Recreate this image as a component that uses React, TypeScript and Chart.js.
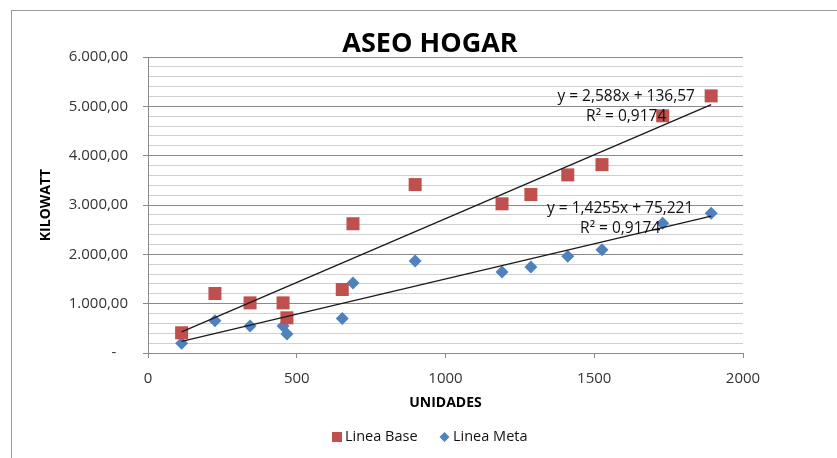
import React, { useEffect, useRef } from "react";
import { Chart, registerables } from "chart.js";

Chart.register(...registerables);

const TITLE = "ASEO HOGAR";
const X_TITLE = "UNIDADES";
const Y_TITLE = "KILOWATT";
const SERIES_NAMES = ["Linea Base", "Linea Meta"];

const UNIDADES = [113, 225, 343, 454, 467, 653, 689, 898, 1190, 1287, 1411, 1526, 1730, 1893];
const LINEA_BASE = [410, 1206, 1016, 1016, 713, 1287, 2620, 3414, 3024, 3212, 3610, 3818, 4808, 5212];
const LINEA_META = [196, 653, 545, 545, 384, 701, 1420, 1865, 1642, 1743, 1960, 2095, 2632, 2834];

// Trendline coefficients as printed on the chart
const BASE_SLOPE = 2.588;
const BASE_INTERCEPT = 136.57;
const META_SLOPE = 1.4255;
const META_INTERCEPT = 75.221;
const BASE_EQ = ["y = 2,588x + 136,57", "R\u00B2 = 0,9174"];
const META_EQ = ["y = 1,4255x + 75,221", "R\u00B2 = 0,9174"];

const Y_MIN = 0;
const Y_MAX = 6000;
const Y_MINOR_STEP = 200;
const Y_MAJOR_STEP = 1000;
const X_MIN = 0;
const X_MAX = 2000;
const X_STEP = 500;

const RED = "#C0504D";
const BLUE = "#4F81BD";
const MAJOR_GRID = "#8a8a8a";
const MINOR_GRID = "#cfcfcf";
const FONT = "'Open Sans', 'Liberation Sans', sans-serif";

function fmtY(v: number): string {
  if (v === 0) return "-   ";
  const intPart = Math.floor(v).toString().replace(/\B(?=(\d{3})+(?!\d))/g, ".");
  return intPart + ",00";
}

function pts(xs: number[], ys: number[]) {
  return xs.map((x, i) => ({ x, y: ys[i] }));
}

function trend(xs: number[], a: number, b: number) {
  const lo = Math.min(...xs);
  const hi = Math.max(...xs);
  return [
    { x: lo, y: a * lo + b },
    { x: hi, y: a * hi + b },
  ];
}

const decorPlugin = {
  id: "decor",
  afterDraw(chart: any) {
    const ctx = chart.ctx;
    const area = chart.chartArea;
    const xs = chart.scales.x;
    const ys = chart.scales.y;
    ctx.save();
    // outer chart border
    ctx.strokeStyle = "#9a9a9a";
    ctx.lineWidth = 1;
    ctx.strokeRect(11.5, 10.5, 900, 600);

    // title
    ctx.fillStyle = "#000";
    ctx.font = `bold 27px ${FONT}`;
    ctx.textAlign = "center";
    ctx.textBaseline = "middle";
    ctx.fillText(TITLE, 430, 44);

    // axis titles
    ctx.font = `bold 14px ${FONT}`;
    ctx.fillText(X_TITLE, (area.left + area.right) / 2, 403);
    ctx.save();
    ctx.translate(46, (area.top + area.bottom) / 2);
    ctx.rotate(-Math.PI / 2);
    ctx.fillText(Y_TITLE, 0, 0);
    ctx.restore();

    // trendline equations
    ctx.font = `15.5px ${FONT}`;
    ctx.fillStyle = "#111";
    const drawEq = (xsArr: number[], a: number, b: number, lines: string[], dx: number) => {
      const hi = Math.max(...xsArr);
      const px = xs.getPixelForValue(hi);
      const py = ys.getPixelForValue(a * hi + b);
      ctx.fillText(lines[0], px - dx, py - 8);
      ctx.fillText(lines[1], px - dx, py + 12);
    };
    drawEq(UNIDADES, BASE_SLOPE, BASE_INTERCEPT, BASE_EQ, 85);
    drawEq(UNIDADES, META_SLOPE, META_INTERCEPT, META_EQ, 91);

    // legend
    const ly = 437;
    ctx.font = `14.5px ${FONT}`;
    ctx.textAlign = "left";
    ctx.fillStyle = RED;
    ctx.fillRect(332, ly - 5, 10, 10);
    ctx.fillStyle = "#111";
    ctx.fillText(SERIES_NAMES[0], 345, ly);
    ctx.fillStyle = BLUE;
    ctx.beginPath();
    ctx.moveTo(444.5, ly - 5);
    ctx.lineTo(449.5, ly);
    ctx.lineTo(444.5, ly + 5);
    ctx.lineTo(439.5, ly);
    ctx.closePath();
    ctx.fill();
    ctx.fillStyle = "#111";
    ctx.fillText(SERIES_NAMES[1], 453, ly);
    ctx.restore();
  },
};

export default function App() {
  const ref = useRef<HTMLCanvasElement | null>(null);
  useEffect(() => {
    if (!ref.current) return;
    const chart = new Chart(ref.current, {
      type: "scatter",
      data: {
        datasets: [
          {
            type: "line",
            label: "trend-base",
            data: trend(UNIDADES, BASE_SLOPE, BASE_INTERCEPT),
            borderColor: "#1a1a1a",
            borderWidth: 1.3,
            pointRadius: 0,
            fill: false,
            order: 0,
          } as any,
          {
            type: "line",
            label: "trend-meta",
            data: trend(UNIDADES, META_SLOPE, META_INTERCEPT),
            borderColor: "#1a1a1a",
            borderWidth: 1.3,
            pointRadius: 0,
            fill: false,
            order: 0,
          } as any,
          {
            label: SERIES_NAMES[0],
            data: pts(UNIDADES, LINEA_BASE),
            pointStyle: "rect",
            pointRadius: 9.2,
            backgroundColor: RED,
            borderColor: RED,
            borderWidth: 0,
            order: 1,
          },
          {
            label: SERIES_NAMES[1],
            data: pts(UNIDADES, LINEA_META),
            pointStyle: "rectRot",
            pointRadius: 6.5,
            backgroundColor: BLUE,
            borderColor: BLUE,
            borderWidth: 0,
            order: 1,
          },
        ],
      },
      options: {
        responsive: false,
        animation: false,
        layout: { padding: { left: 0, top: 57, right: 94, bottom: 0 } },
        plugins: {
          legend: { display: false },
          title: { display: false },
          tooltip: { enabled: false },
        },
        scales: {
          x: {
            type: "linear",
            min: X_MIN,
            max: X_MAX,
            afterFit: (s: any) => {
              s.height = 105;
            },
            ticks: {
              stepSize: X_STEP,
              color: "#333",
              font: { family: FONT, size: 15 },
              padding: 12,
              maxRotation: 0,
              callback: (v: any) => String(v),
            },
            grid: {
              drawOnChartArea: false,
              tickLength: 5,
              tickColor: MAJOR_GRID,
            },
            border: { color: MAJOR_GRID },
          },
          y: {
            type: "linear",
            min: Y_MIN,
            max: Y_MAX,
            afterFit: (s: any) => {
              s.width = 148;
            },
            ticks: {
              stepSize: Y_MINOR_STEP,
              autoSkip: false,
              color: "#333",
              font: { family: FONT, size: 15 },
              padding: 15,
              callback: (v: any) => (Number(v) % Y_MAJOR_STEP === 0 ? fmtY(Number(v)) : ""),
            },
            grid: {
              tickLength: 5,
              color: (c: any) =>
                c.tick && c.tick.value % Y_MAJOR_STEP === 0 ? MAJOR_GRID : MINOR_GRID,
              tickColor: (c: any) =>
                c.tick && c.tick.value % Y_MAJOR_STEP === 0 ? MAJOR_GRID : "rgba(0,0,0,0)",
            },
            border: { color: MAJOR_GRID },
          },
        },
      },
      plugins: [decorPlugin],
    });
    return () => chart.destroy();
  }, []);
  return (
    <div style={{ position: "absolute", left: 0, top: 0, width: 837, height: 458 }}>
      <canvas ref={ref} width={837} height={458} style={{ display: "block" }} />
    </div>
  );
}
